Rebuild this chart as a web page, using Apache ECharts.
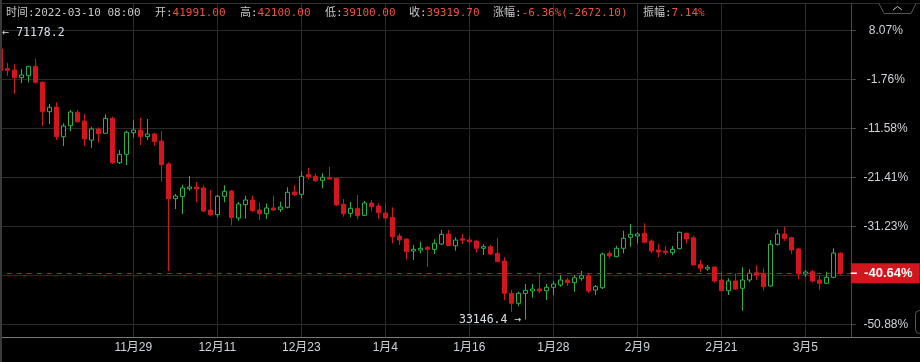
<!DOCTYPE html>
<html><head><meta charset="utf-8">
<script src="https://cdn.jsdelivr.net/npm/echarts@6/dist/echarts.min.js"></script>
<style>html,body{margin:0;padding:0;background:#000;}#c{width:920px;height:362px;}</style>
</head><body><div id="c"></div>
<script>
// ---- data (daily candles, 2021-11-10 .. 2022-03-10) ----
const startYear = 2021, startMonth = 10, startDay = 10; // 2021-11-10
const dayCount = 121;
const openP = [69101,66484,66312,65289,65555,66803,64678,60773,61397,57452,
58913,60694,59538,57000,58476,57905,59897,54000,55115,57984,
58343,57452,57811,56881,53827,49218,49484,50546,50772,50640,
47717,47092,49537,50241,46654,48421,49045,47717,47225,47982,
47809,48075,50108,49803,52406,52193,51661,52060,51927,48474,
47278,47942,47013,48647,48249,47318,46747,44264,43865,42271,
42404,42763,42496,43201,44529,42975,43905,43732,43599,42630,
42842,41965,40943,36653,35325,36653,36959,37224,36998,37450,
37755,38419,38060,38645,38990,37091,37397,41965,41515,42630,
44091,44264,44622,43599,42404,42271,42045,42577,44622,44038,
40505,39880,40146,38419,36998,38287,37317,38419,39389,39310,
37623,43161,44529,44038,42537,39217,39522,38419,37981,38778,
41991];
const closeP = [66239.4,66272,65289,65648,66803,64678,60773,61357,57452,58874,
60733,59445,57147,58476,57852,59897,54000,55115,58037,58343,
57452,57811,56788,53734,49218,49577,50640,50772,50506,47584,
47092,49537,50200,46694,48514,49045,47624,47225,47982,47717,
48115,50068,49749,52193,52140,51608,52060,51834,48381,47225,
47942,46960,48647,48156,47358,46654,44171,43732,42178,42496,
42630,42496,43294,44489,42975,43732,43692,43506,42630,42842,
41873,40850,36653,35325,36653,37051,37224,36959,37450,37888,
38419,38060,38725,38990,36959,37530,41873,41608,42630,43958,
44489,44529,43427,42271,42138,42045,42496,44755,43865,40412,
39974,40106,38287,36998,38287,37224,38419,39310,39084,37530,
43161,44529,43958,42404,39217,39483,38287,37981,38778,41991.8,
39319.7];
const lowP = [65200,65515,63124,64546,64678,64492,58874,59139,57014,56217,
58210,59312,56217,55991,56655,57878,53827,53827,53694,57319,
56350,57014,56257,51475,39615,47850,47186,50280,48740,47451,
46920,46747,48740,45685,46296,46561,47451,46389,46521,47624,
47451,47942,49577,49271,51794,51436,50599,51794,48249,46826,
46747,46482,46920,47544,46561,46216,43294,43068,41169,41076,
41965,40147,41873,43068,42935,42311,43201,43201,42045,41740,
41740,40810,35763,34207,34966,33146.4,36068,36653,35763,36427,
37530,37623,36866,38326,36653,36427,37224,41249,41435,41965,
42842,43294,43294,41965,41435,41740,41700,42496,43294,40319,
39522,39655,38060,36866,36427,37091,34341,38114,38419,36998,
37530,42975,43599,41873,38552,38778,38114,37091,37888,38645,
39100];
const highP = [71178.2,67282,67109,66445,66843,67813,64800,61796,62021,59232,
60999,60999,60468,58781,58701,60428,60109,55686,58250,59631,
59976,59804,57984,58210,54053,49842,51078,52233,51436,50998,
50333,49710,50998,50373,48780,49616,49616,48687,48607,49616,
48819,50732,50998,52857,53296,52592,52592,53468,51967,49178,
48780,49710,48912,49045,48607,48607,48075,44622,43931,43068,
43506,42935,43825,45060,45060,44091,44529,44171,43665,43201,
43068,44038,41435,37091,36866,37888,37888,39217,37888,38287,
39084,38725,39084,39615,39310,37755,42045,42311,42975,44967,
45858,44755,45952,43825,43161,42935,42935,44834,44701,44303,
41076,40412,40186,39615,38645,39310,40106,39841,40372,39974,
43732,45153,45498,44171,42710,39748,39748,39084,39522,42630,
42100];
const tickDates = ['2021-11-29','2021-12-11','2021-12-23','2022-01-04','2022-01-16','2022-01-28','2022-02-09','2022-02-21','2022-03-05'];
const topPct = 8.07, bottomPct = -50.88, stepPct = 9.825; // right-axis percent ticks
const lastTime = '08:00';

// ---- build ----
const categories = [];
for (let i = 0; i < dayCount + 1; i++) {
  const d = new Date(Date.UTC(startYear, startMonth, startDay + i));
  categories.push(d.toISOString().slice(0, 10));
}
const tickSet = new Set(tickDates);
const candles = openP.map((o, i) => [o, closeP[i], lowP[i], highP[i]]);
const P0 = closeP[0];
const yMin = P0 * (1 + bottomPct / 100), yMax = P0 * (1 + topPct / 100), yStep = P0 * stepPct / 100;
function r2(p) { const s = p < 0 ? -1 : 1; return (s * Math.round(Math.abs(p) * 100 + 1e-6) / 100).toFixed(2); }
const fmtPct = v => r2((v / P0 - 1) * 100) + '%';

const n = openP.length - 1;
const lastO = openP[n], lastC = closeP[n], lastH = highP[n], lastL = lowP[n], prevC = closeP[n - 1];
const chg = lastC - prevC;
const RED = '#d3151d', GREEN = '#29b34a';
const MONO = '"DejaVu Sans Mono","Noto Sans CJK SC",monospace';
const SANS = '"Liberation Sans","Noto Sans CJK SC",sans-serif';
const LBL = '#c8c8c8', VAL = '#ef5044', AX = '#cfd4da', GRID = '#2a2a2a';

const richHead = {
  l: { fill: LBL, font: '11px ' + MONO },
  v: { fill: VAL, font: '11px ' + MONO }
};
function head(x, text) {
  return { type: 'text', x: x, y: 13.5, z: 50, style: { text: text, rich: richHead, verticalAlign: 'middle', font: '11px ' + MONO } };
}
const headParts = [
  [6, '{l|时间:' + categories[n] + ' ' + lastTime + '}'],
  [155, '{l|开:}{v|' + lastO.toFixed(2) + '}'],
  [240, '{l|高:}{v|' + lastH.toFixed(2) + '}'],
  [325, '{l|低:}{v|' + lastL.toFixed(2) + '}'],
  [409, '{l|收:}{v|' + lastC.toFixed(2) + '}'],
  [493, '{l|涨幅:}{v|' + r2(chg / prevC * 100) + '%(' + chg.toFixed(2) + ')}'],
  [643, '{l|振幅:}{v|' + r2((lastH - lastL) / prevC * 100) + '%}']
];

const chart = echarts.init(document.getElementById('c'));
chart.setOption({
  backgroundColor: '#000',
  animation: false,
  grid: [
    { left: -3.2, right: 69.2, top: 30.3, bottom: 37.7, outerBoundsMode: 'none', containLabel: false },
    { left: -3.2, right: 69.2, top: 3, bottom: 25, outerBoundsMode: 'none', containLabel: false }
  ],
  xAxis: [
    { type: 'category', gridIndex: 0, data: categories, boundaryGap: true,
      axisLine: { show: false }, axisTick: { show: false }, axisLabel: { show: false }, splitLine: { show: false } },
    { type: 'category', gridIndex: 1, data: categories, boundaryGap: true,
      axisLine: { show: false }, axisTick: { show: false },
      axisLabel: { interval: (i, v) => tickSet.has(v), margin: 5, color: AX, fontSize: 12, fontFamily: SANS,
        formatter: v => (+v.slice(5, 7)) + '月' + (+v.slice(8, 10)) },
      splitLine: { show: true, interval: (i, v) => tickSet.has(v), alignWithLabel: true, lineStyle: { color: GRID, width: 1 } } }
  ],
  yAxis: [
    { type: 'value', gridIndex: 0, position: 'right', min: yMin, max: yMax, interval: yStep,
      axisLine: { show: false },
      axisTick: { show: true, length: 5, lineStyle: { color: '#4a4a4a' } },
      axisLabel: { formatter: fmtPct, align: 'center', margin: 35, color: AX, fontSize: 12, fontFamily: SANS },
      splitLine: { show: true, lineStyle: { color: GRID, width: 1 } } },
    { type: 'value', gridIndex: 1, position: 'right', min: 0, max: 1,
      axisLine: { show: true, lineStyle: { color: '#4a4a4a' } }, axisTick: { show: false },
      axisLabel: { show: false }, splitLine: { show: false } }
  ],
  series: [{
    type: 'candlestick', xAxisIndex: 0, yAxisIndex: 0, z: 5,
    data: candles, barWidth: 5,
    itemStyle: { color: '#000', color0: RED, borderColor: GREEN, borderColor0: RED, borderWidth: 1 },
    markLine: {
      silent: true, symbol: ['none', 'none'], z: 10,
      lineStyle: { color: RED, type: [5, 5], width: 1 },
      label: {
        position: 'end', distance: 0, padding: 0, backgroundColor: RED,
        formatter: p => '{t|}{a|' + fmtPct(p.value) + '}',
        rich: {
          t: { width: 6, height: 1.5, backgroundColor: '#ffffff' },
          a: { width: 63, height: 20, lineHeight: 20, align: 'center', color: '#fff', fontSize: 13, fontWeight: 'bold', fontFamily: SANS }
        }
      },
      data: [{ yAxis: lastC }]
    },
    markPoint: {
      symbol: 'circle', symbolSize: 0, silent: true,
      data: [
        { type: 'max', valueDim: 'highest', label: { position: 'right', distance: 2, formatter: p => '← ' + p.value } },
        { type: 'min', valueDim: 'lowest', label: { position: 'left', distance: 4, formatter: p => p.value + ' →' } }
      ],
      label: { color: '#d8e0e8', fontSize: 11.5, fontFamily: MONO }
    }
  }],
  graphic: [
    { type: 'line', z: 40, shape: { x1: 0, y1: 3.5, x2: 920, y2: 3.5 }, style: { stroke: '#333', lineWidth: 1 } },
    { type: 'line', z: 40, shape: { x1: 0, y1: 337.5, x2: 920, y2: 337.5 }, style: { stroke: '#777', lineWidth: 1 } },
    { type: 'rect', z: 60, shape: { x: 0, y: 0, width: 2, height: 362 }, style: { fill: '#3a3a3a' } },
    { type: 'polyline', z: 60, shape: { points: [[879, 3.5], [884, 13.5], [911, 13.5], [916, 3.5]] }, style: { stroke: '#555', fill: '#000', lineWidth: 1 } },
    { type: 'polyline', z: 61, shape: { points: [[893, 10], [897.5, 6.5], [902, 10]] }, style: { stroke: '#bbb', fill: null, lineWidth: 1 } },
    { type: 'rect', z: 60, shape: { x: 915.5, y: 310.5, width: 20, height: 23, r: 4 }, style: { stroke: '#555', fill: '#000' } }
  ].concat(headParts.map(h => head(h[0], h[1])))
});
</script>
</body></html>
